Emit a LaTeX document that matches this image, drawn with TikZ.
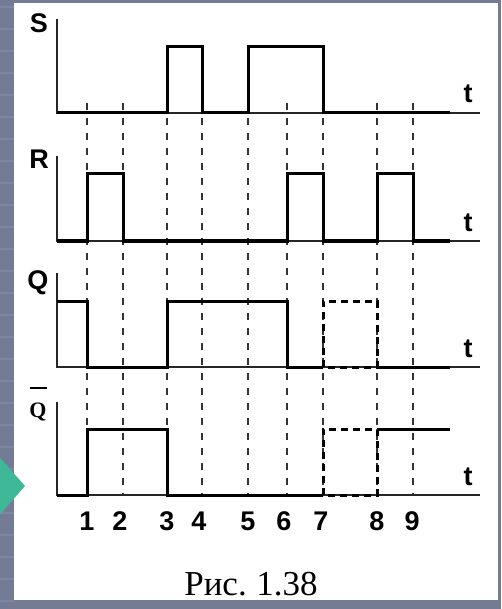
\documentclass[tikz,border=0pt]{standalone}
\usepackage{fontspec}
\setmainfont{Liberation Serif}
\newfontfamily\lsans{Liberation Sans}
\definecolor{slate}{HTML}{737B95}
\definecolor{slateL}{HTML}{7E86A0}
\definecolor{tealarrow}{HTML}{3FB898}
\begin{document}
\begin{tikzpicture}[x=1pt,y=-1pt,
  sig/.style={line width=3pt, line join=miter},
  undet/.style={line width=3pt, dash pattern=on 7pt off 5pt},
  axisline/.style={line width=1.8pt, black!85},
  gridline/.style={line width=1.6pt, black!80, dash pattern=on 7pt off 8pt},
  lab/.style={font=\lsans\bfseries\fontsize{27}{27}\selectfont, inner sep=0pt},
  qbar/.style={font=\bfseries\fontsize{22}{22}\selectfont, inner sep=0pt, align=center},
  caption/.style={font=\fontsize{35}{35}\selectfont, inner sep=0pt}
  ]
\useasboundingbox (0,0) rectangle (501,609);
% background
\fill[slate] (0,0) rectangle (501,609);
\foreach \yy in {6,28,...,600} \fill[slateL] (0,\yy) rectangle (14,\yy+2);
\fill[white] (14,3) rectangle (498,600);
\fill[tealarrow] (-5,452) -- (25,486) -- (-5,520) -- cycle;
% grid lines
\foreach \xx in {87,123,167,202,248,287,323,377,413}
  \draw[gridline] (\xx,103) -- (\xx,495);
% axes
\foreach \top/\base in {19/113,156/241,273/367,402/495}{
  \draw[axisline] (57,\top) -- (57,\base) -- (480,\base);
}
% S
\draw[sig] (57,113) -- (167,113) -- (167,47) -- (202,47) -- (202,113) -- (248,113)
  -- (248,47) -- (323,47) -- (323,113) -- (450,113);
% R
\draw[sig] (57,241) -- (87,241) -- (87,174) -- (123,174) -- (123,241) -- (287,241)
  -- (287,174) -- (323,174) -- (323,241) -- (377,241) -- (377,174) -- (413,174)
  -- (413,241) -- (450,241);
% Q
\draw[sig] (57,301) -- (87,301) -- (87,367) -- (167,367) -- (167,301) -- (287,301)
  -- (287,367) -- (323,367);
\draw[sig] (377,367) -- (450,367);
\draw[undet] (323,367) -- (323,301) -- (377,301) -- (377,367) -- cycle;
% Qbar
\draw[sig] (57,495) -- (87,495) -- (87,429) -- (167,429) -- (167,495) -- (323,495);
\draw[sig] (377,429) -- (450,429);
\draw[undet] (323,495) -- (323,429) -- (377,429) -- (377,495) -- cycle;
% labels
\node[lab] (lS) at (39,23) {S};
\node[lab] (lR) at (39,159) {R};
\node[lab] (lQ) at (38,283) {Q};
\node[qbar] (lQb) at (38,404) {\rule{17pt}{1.6pt}\\[6pt]Q};
\node[lab] (tS) at (468,94) {t};
\node[lab] (tR) at (468,223) {t};
\node[lab] (tQ) at (468,349) {t};
\node[lab] (tQb) at (468,477) {t};
\foreach \xx/\n in {87/1,120/2,167/3,199/4,248/5,284/6,321/7,377/8,412/9}
  \node[lab] (n\n) at (\xx,521) {\n};
\node[caption] (cap) at (251,584) {Рис.\kern-2pt{} 1.38};
\end{tikzpicture}
\end{document}
